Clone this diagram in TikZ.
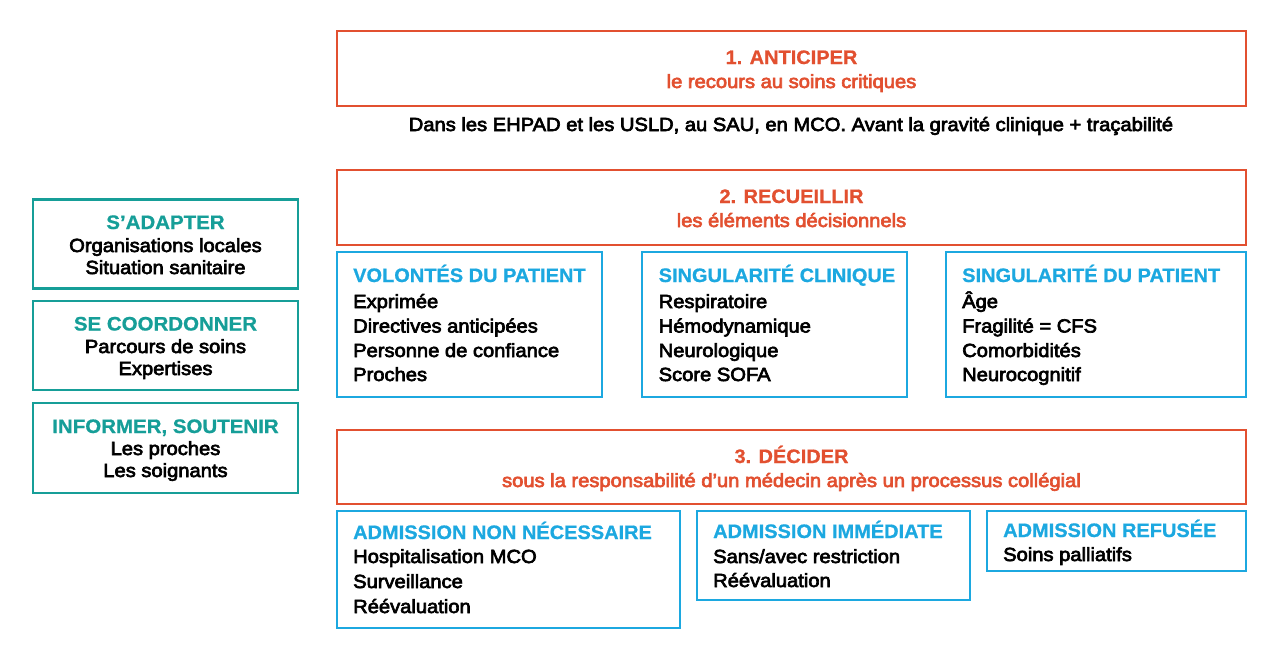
\documentclass[tikz,border=0pt]{standalone}
\usepackage{fontspec}
\setmainfont{Liberation Sans}
\newfontfamily\bodyf[FakeBold=3.5,FakeStretch=1.06]{Liberation Sans}
\newfontface\ttlf[FakeStretch=1.025,FakeBold=0.8]{Liberation Sans Bold}
\newfontface\ttlw[FakeStretch=1.05,FakeBold=0.8]{Liberation Sans Bold}
\definecolor{ora}{RGB}{226,80,48}
\definecolor{blu}{RGB}{28,168,224}
\definecolor{tea}{RGB}{22,158,152}
\tikzset{
  boxall/.style={line width=2.5pt, anchor=north west, inner sep=0pt, outer sep=0pt},
  boxo/.style={boxall, draw=ora},
  boxb/.style={boxall, draw=blu},
  boxt/.style={boxall, draw=tea},
  bodytxt/.style={font=\bodyf\fontsize{19}{24}\selectfont, inner sep=0pt, text=black},
  ttltxt/.style={font=\ttlf\fontsize{19.5}{24}\selectfont, inner sep=0pt},
  bl/.style={bodytxt, anchor=base west},
  bc/.style={bodytxt, anchor=base},
  tbl/.style={ttltxt, text=blu, anchor=base west},
  ttc/.style={ttltxt, font=\ttlw\fontsize{19.5}{24}\selectfont, text=tea, anchor=base},
  toc/.style={ttltxt, text=ora, anchor=base},
  soc/.style={bodytxt, text=ora, anchor=base},
}
\begin{document}
\begin{tikzpicture}[x=1pt,y=-1pt]
\useasboundingbox (0,0) rectangle (1280,661);
% orange boxes
\node[boxo, minimum width=909pt, minimum height=75pt] (b1) at (337,31) {};
\node[toc] (b1t) at (791.5,64) {1. ANTICIPER};
\node[soc] (b1s) at (791.5,88) {le recours au soins critiques};
\node[bc] (b1n) at (791,131) {Dans les EHPAD et les USLD, au SAU, en MCO. Avant la gravité clinique + traçabilité};
\node[boxo, minimum width=909pt, minimum height=75pt] (b2) at (337,170) {};
\node[toc] (b2t) at (791.5,203) {2. RECUEILLIR};
\node[soc] (b2s) at (791.5,227) {les éléments décisionnels};
\node[boxo, minimum width=909pt, minimum height=74pt] (b3) at (337,430) {};
\node[toc] (b3t) at (791.5,463) {3. DÉCIDER};
\node[soc] (b3s) at (791.5,487) {sous la responsabilité d’un médecin après un processus collégial};
% blue row 1
\node[boxb, minimum width=265pt, minimum height=145pt] (ba) at (337,252) {};
\node[tbl] (bat) at (353,282) {VOLONTÉS DU PATIENT};
\node[bl] (ba1) at (353,308) {Exprimée};
\node[bl] (ba2) at (353,332.5) {Directives anticipées};
\node[bl] (ba3) at (353,357) {Personne de confiance};
\node[bl] (ba4) at (353,381) {Proches};
\node[boxb, minimum width=265pt, minimum height=145pt] (bb) at (642,252) {};
\node[tbl] (bbt) at (658.5,282) {SINGULARITÉ CLINIQUE};
\node[bl] (bb1) at (658.5,308) {Respiratoire};
\node[bl] (bb2) at (658.5,332.5) {Hémodynamique};
\node[bl] (bb3) at (658.5,357) {Neurologique};
\node[bl] (bb4) at (658.5,381) {Score SOFA};
\node[boxb, minimum width=300pt, minimum height=145pt] (bc) at (946,252) {};
\node[tbl] (bct) at (962,282) {SINGULARITÉ DU PATIENT};
\node[bl] (bc1) at (962,308) {Âge};
\node[bl] (bc2) at (962,332.5) {Fragilité = CFS};
\node[bl] (bc3) at (962,357) {Comorbidités};
\node[bl] (bc4) at (962,381) {Neurocognitif};
% blue row 2
\node[boxb, minimum width=343pt, minimum height=117pt] (bd) at (337,511) {};
\node[tbl] (bdt) at (353,539) {ADMISSION NON NÉCESSAIRE};
\node[bl] (bd1) at (353,563) {Hospitalisation MCO};
\node[bl] (bd2) at (353,588) {Surveillance};
\node[bl] (bd3) at (353,613) {Réévaluation};
\node[boxb, minimum width=273pt, minimum height=89pt] (be) at (697,511) {};
\node[tbl] (bet) at (713,538) {ADMISSION IMMÉDIATE};
\node[bl] (be1) at (713,563) {Sans/avec restriction};
\node[bl] (be2) at (713,587) {Réévaluation};
\node[boxb, minimum width=259pt, minimum height=60pt] (bf) at (987,511) {};
\node[tbl] (bft) at (1003,537) {ADMISSION REFUSÉE};
\node[bl] (bf1) at (1003,561) {Soins palliatifs};
% teal boxes
\node[boxt, minimum width=265pt, minimum height=89pt] (l1) at (33,199.5) {};
\node[ttc] (l1t) at (165.5,229) {S’ADAPTER};
\node[bc] (l11) at (165.5,252) {Organisations locales};
\node[bc] (l12) at (165.5,274) {Situation sanitaire};
\node[boxt, minimum width=265pt, minimum height=89pt] (l2) at (33,301) {};
\node[ttc] (l2t) at (165.5,330.5) {SE COORDONNER};
\node[bc] (l21) at (165.5,353) {Parcours de soins};
\node[bc] (l22) at (165.5,375) {Expertises};
\node[boxt, minimum width=265pt, minimum height=90pt] (l3) at (33,403) {};
\node[ttc] (l3t) at (165.5,433) {INFORMER, SOUTENIR};
\node[bc] (l31) at (165.5,455) {Les proches};
\node[bc] (l32) at (165.5,477) {Les soignants};
\end{tikzpicture}
\end{document}
